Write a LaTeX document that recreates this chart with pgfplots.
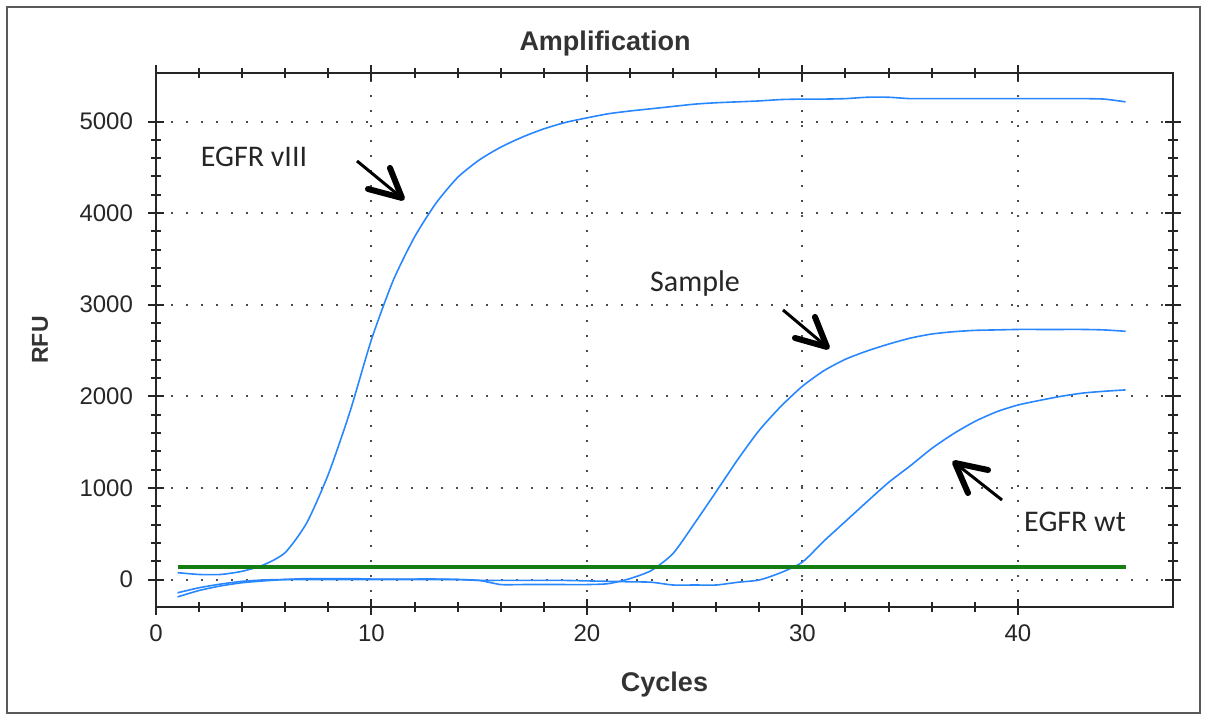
\documentclass[border=0pt]{standalone}
\usepackage{fontspec}
\setmainfont{Liberation Sans}
\newfontfamily\calib{Carlito}
\usepackage{pgfplots}
\pgfplotsset{compat=1.18}
\definecolor{curveblue}{RGB}{40,135,255}
\definecolor{thrgreen}{RGB}{20,125,20}

\begin{document}
\begin{tikzpicture}[x=0.5pt,y=0.5pt]
\useasboundingbox (0,0) rectangle (1206,716);
\draw[black!65, line width=1pt] (7,3) rectangle (1200,709);
\begin{axis}[
  at={(78pt,54.5pt)}, anchor=south west,
  scale only axis, width=508.5pt, height=267pt,
  xmin=0, xmax=47.2, ymin=-300, ymax=5530,
  xtick={0,10,...,40}, minor x tick num=4,
  ytick={0,1000,...,5000}, minor y tick num=4,
  axis line style={black!85, line width=1.2pt},
  tick style={black!85, line width=1pt},
  tick align=center,
  major tick length=8pt, minor tick length=5pt,
  grid=major,
  major grid style={black!70, line width=1pt, dash pattern=on 1pt off 6.5pt},
  ticklabel style={font=\fontsize{12}{14}\selectfont, text=black!85},
  yticklabel style={xshift=-4pt},
  xticklabel style={yshift=-1.5pt},
  /pgf/number format/assume math mode=true,
  /pgf/number format/1000 sep={},
  xlabel={Cycles},
  xlabel style={font=\bfseries\fontsize{13.5}{16}\selectfont, text=black!80,
    at={(axis description cs:0.5,-0.146)}, anchor=center},
  ylabel={RFU},
  ylabel style={font=\bfseries\fontsize{11.5}{14}\selectfont, text=black!80,
    at={(axis description cs:-0.114,0.5)}, anchor=center},
]
% EGFR vIII
\addplot[curveblue, line width=0.8pt, smooth, tension=0.4] coordinates {
 (1,75) (2,55) (3,55) (4,90) (5,160) (6,295) (7,620) (8,1150) (9,1830)
 (10,2620) (11,3260) (12,3740) (13,4110) (14,4390) (15,4580) (16,4720)
 (17,4830) (18,4920) (19,4990) (20,5040) (21,5085) (22,5115) (23,5140)
 (24,5165) (25,5190) (26,5205) (27,5215) (28,5225) (29,5240) (30,5245)
 (31,5245) (32,5250) (33,5265) (34,5265) (35,5250) (36,5250) (37,5250)
 (38,5250) (39,5250) (40,5250) (41,5250) (42,5250) (43,5250) (44,5245)
 (45,5215)};
% Sample
\addplot[curveblue, line width=0.8pt, smooth, tension=0.4] coordinates {
 (1,-190) (2,-120) (3,-70) (4,-35) (5,-15) (6,0) (7,10) (8,10) (9,10)
 (10,5) (11,5) (12,5) (13,5) (14,0) (15,-10) (16,-55) (17,-55) (18,-55)
 (19,-55) (20,-55) (21,-45) (22,10) (23,100) (24,285) (25,615) (26,960)
 (27,1310) (28,1630) (29,1890) (30,2110) (31,2280) (32,2405) (33,2495)
 (34,2570) (35,2635) (36,2680) (37,2705) (38,2720) (39,2725) (40,2730)
 (41,2730) (42,2730) (43,2730) (44,2725) (45,2710)};
% EGFR wt
\addplot[curveblue, line width=0.8pt, smooth, tension=0.4] coordinates {
 (1,-145) (2,-90) (3,-50) (4,-20) (5,-5) (6,0) (7,0) (8,0) (9,0) (10,0)
 (11,0) (12,0) (13,0) (14,0) (15,-10) (16,-10) (17,-10) (18,-10) (19,-10)
 (20,-15) (21,-20) (22,-25) (23,-30) (24,-60) (25,-60) (26,-60) (27,-30)
 (28,-5) (29,75) (30,190) (31,420) (32,635) (33,850) (34,1060) (35,1240)
 (36,1430) (37,1590) (38,1725) (39,1830) (40,1905) (41,1955) (42,2000)
 (43,2035) (44,2055) (45,2070)};
% threshold
\addplot[thrgreen, line width=2pt] coordinates {(1,140) (45,140)};
\end{axis}
% title and annotations
\node[font=\bfseries\fontsize{13.5}{16}\selectfont, text=black!80] at (605,672) {Amplification};
\node[font=\calib\fontsize{15}{18}\selectfont, text=black!85] at (254,559) {EGFR vIII};
\node[font=\calib\fontsize{15}{18}\selectfont, text=black!85] at (695,432) {Sample};
\node[font=\calib\fontsize{15}{18}\selectfont, text=black!85] at (1075,194) {EGFR wt};
% arrows
\draw[black, line width=1.5pt] (357,555) -- (402,518);
\draw[black, line width=3pt, line cap=round, line join=round] (390,548) -- (402,518) -- (368,527);
\draw[black, line width=1.5pt] (783,406) -- (827,369);
\draw[black, line width=3pt, line cap=round, line join=round] (815,399) -- (827,369) -- (795,378);
\draw[black, line width=1.5pt] (1002,216) -- (955,253);
\draw[black, line width=3pt, line cap=round, line join=round] (988,246) -- (955,253) -- (968,223);
\end{tikzpicture}
\end{document}
